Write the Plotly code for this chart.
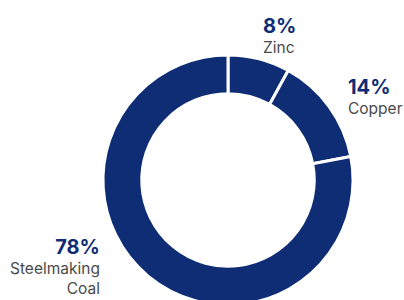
import plotly.graph_objects as go

labels = ["Zinc", "Copper", "Steelmaking Coal"]
values = [8, 14, 78]
pct_text = ["8%", "14%", "78%"]
label_text = ["Zinc", "Copper", "Steelmaking<br>Coal"]

NAVY = "#0e2d74"
GRAY = "#4a4a4a"
W, H = 404, 310

def fx(px):
    return px / W

def fy(py):
    return 1 - py / H

cx, cy, R = 228, 180, 125
fig = go.Figure(go.Pie(
    labels=labels, values=values, sort=False, direction="clockwise", rotation=0,
    hole=0.69, textinfo="none", hoverinfo="label+percent",
    marker=dict(colors=[NAVY]*3, line=dict(color="white", width=3)),
    domain=dict(x=[fx(cx - R), fx(cx + R)], y=[fy(cy + R), fy(cy - R)]),
    showlegend=False,
))

FONT = "Inter, Roboto, sans-serif"
# (x, top y of text block, anchor) in reference pixels
pos = [(262, 13, "left"), (347, 74, "left"), (101, 234, "right")]
for (px, py, anc), p, l in zip(pos, pct_text, label_text):
    txt = f"<span style='font-size:20px;color:{NAVY}'><b>{p}</b></span><br>{l}"
    fig.add_annotation(x=fx(px), y=fy(py), xref="paper", yref="paper", xanchor=anc, yanchor="top",
                       text=txt, showarrow=False, align=anc, borderpad=0,
                       font=dict(family=FONT, size=15.5, color=GRAY))

fig.update_layout(width=W, height=H, margin=dict(l=0, r=0, t=0, b=0),
                  paper_bgcolor="white", plot_bgcolor="white")
fig.write_html("out.html", config={"displayModeBar": False},
               post_script="document.body.style.margin='0';document.body.style.overflow='hidden';")
